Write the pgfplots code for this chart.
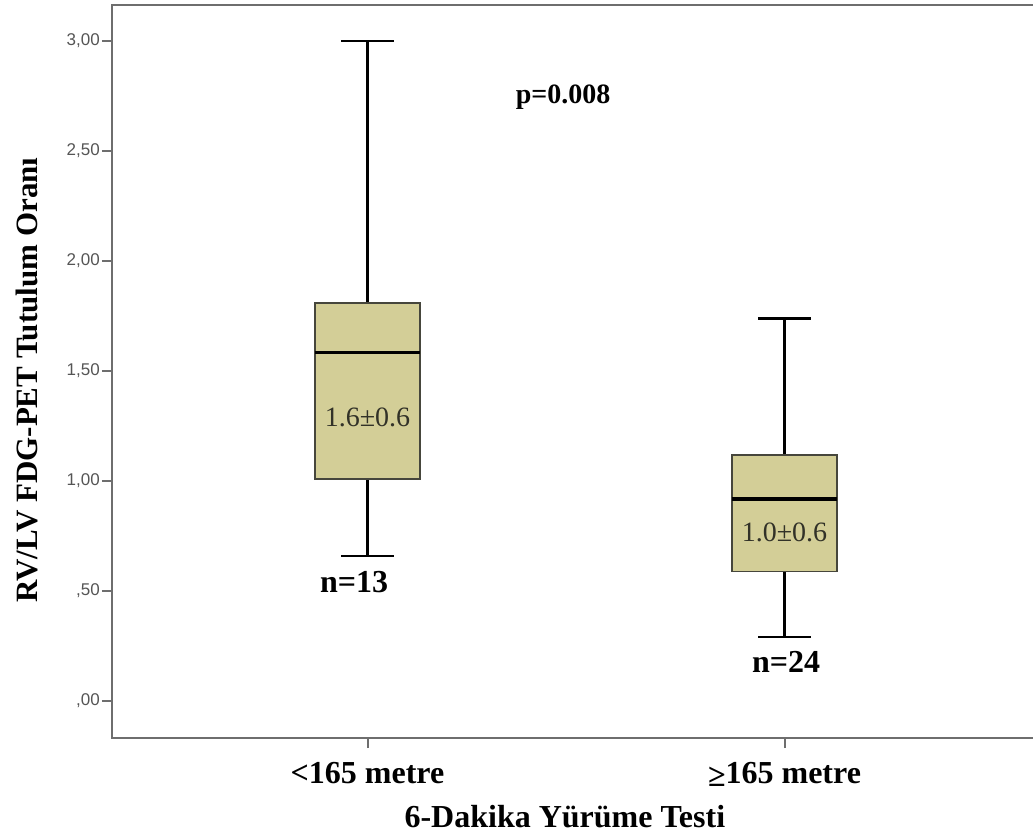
\documentclass[border=0pt]{standalone}
\usepackage{pgfplots}
\pgfplotsset{compat=1.18}
\usepgfplotslibrary{statistics}
\usepackage{fontspec}
\setmainfont{Liberation Serif}
\newfontfamily\arialf{Liberation Sans}
\definecolor{boxfill}{RGB}{211,206,151}
\definecolor{boxline}{RGB}{70,70,60}
\definecolor{framec}{RGB}{110,110,110}
\definecolor{ticklab}{RGB}{85,85,85}
\definecolor{intext}{RGB}{50,50,40}
\begin{document}
\begin{tikzpicture}
\useasboundingbox (0,0) rectangle (1033pt,836pt);
\clip (0,0) rectangle (1033pt,836pt);
\begin{axis}[
  at={(112pt,98pt)}, anchor=south west,
  scale only axis, width=928pt, height=733pt,
  xmin=0.3873, xmax=2.6127, ymin=-0.1682, ymax=3.1636,
  axis line style={framec, line width=2pt},
  xtick={1,2}, xticklabels={{<165 metre},{\raisebox{-3pt}{≥}165 metre}},
  ytick={0,0.5,1,1.5,2,2.5,3},
  yticklabels={{,00},{,50},{1,00},{1,50},{2,00},{2,50},{3,00}},
  tick align=outside, major tick length=10pt,
  xtick pos=left, ytick pos=left,
  tick style={framec, line width=2pt},
  yticklabel style={font=\arialf\fontsize{17}{20}\selectfont, text=ticklab, inner sep=2pt},
  xticklabel style={font=\bfseries\fontsize{32}{38}\selectfont, yshift=-11pt},
  xlabel={6-Dakika Yürüme Testi},
  ylabel={RV/LV FDG-PET Tutulum Oranı},
  xlabel style={font=\bfseries\fontsize{32}{38}\selectfont, at={(rel axis cs:0.488,0)}, anchor=center, yshift=-79pt},
  ylabel style={font=\bfseries\fontsize{31}{36}\selectfont, at={(rel axis cs:0,0.488)}, anchor=center, yshift=85pt},
  boxplot/draw direction=y,
  boxplot/box extend=0.252,
  boxplot/whisker extend=0.125,
  boxplot/every box/.style={draw=boxline, fill=boxfill, line width=1.5pt},
  boxplot/every whisker/.style={black, line width=2.5pt},
  boxplot/every median/.style={black, line width=3.5pt},
]
\addplot+[mark=none, boxplot prepared={draw position=1, lower whisker=0.659, lower quartile=1.009, median=1.583, upper quartile=1.810, upper whisker=3.00}] coordinates {};
\addplot+[mark=none, boxplot prepared={draw position=2, lower whisker=0.29, lower quartile=0.588, median=0.918, upper quartile=1.118, upper whisker=1.739}] coordinates {};
\node[font=\bfseries\fontsize{28}{32}\selectfont] at (axis cs:1.469,2.745) {p=0.008};
\node[font=\bfseries\fontsize{32}{36}\selectfont] at (axis cs:0.968,0.541) {n=13};
\node[font=\bfseries\fontsize{32}{36}\selectfont] at (axis cs:2.004,0.177) {n=24};
\node[font=\fontsize{28}{32}\selectfont, text=intext] at (axis cs:1.0,1.291) {1.6±0.6};
\node[font=\fontsize{28}{32}\selectfont, text=intext] at (axis cs:2.0,0.768) {1.0±0.6};
\end{axis}
\end{tikzpicture}
\end{document}
